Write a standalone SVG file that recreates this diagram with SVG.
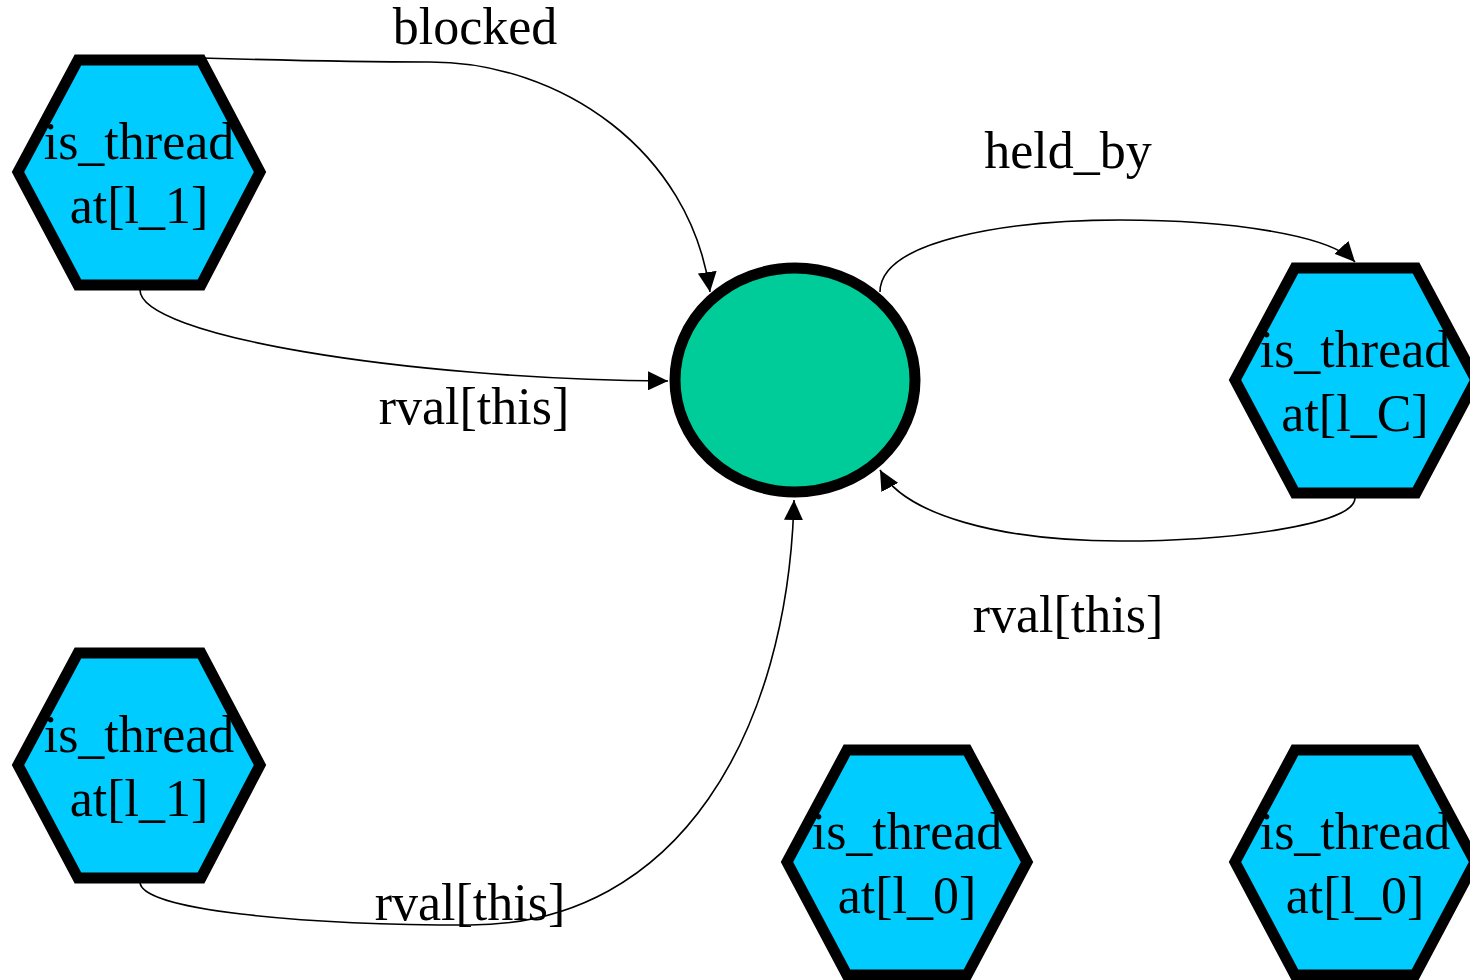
<svg xmlns="http://www.w3.org/2000/svg" width="1470" height="980" viewBox="0 0 1470 980">
  <defs>
    <style>
      .thread { fill: #00ccff; stroke: #000; stroke-width: 11; stroke-linejoin: miter; }
      .lock { fill: #00cc99; stroke: #000; stroke-width: 11; }
      .lbl { font-family: "Liberation Serif", "Times New Roman", serif; font-size: 52px; fill: #000; text-anchor: middle; }
      .edge { fill: none; stroke: #000; stroke-width: 1.6; }
    </style>
    <marker id="head" viewBox="0 0 20 19" refX="20" refY="9.5" markerWidth="20" markerHeight="19" markerUnits="userSpaceOnUse" orient="auto">
      <path d="M0,0 L20,9.5 L0,19 z" fill="#000"/>
    </marker>
  </defs>
  <rect width="1470" height="980" fill="#fff"/>

  <!-- connectors -->
  <g id="edges">
    <path class="edge" marker-end="url(#head)" d="M140,56 C200,58 330,62 430,62 C560,62 690,150 710,292"/>
    <text class="lbl" x="475" y="44">blocked</text>

    <path class="edge" marker-end="url(#head)" d="M140,290 C140,335 400,379 668,381"/>
    <text class="lbl" x="474" y="424">rval[this]</text>

    <path class="edge" marker-end="url(#head)" d="M140,882 C140,910 300,925 470,925 C680,925 788,730 794,500"/>
    <text class="lbl" x="470" y="920">rval[this]</text>

    <path class="edge" marker-end="url(#head)" d="M880,292 C880,240 1010,220 1120,220 C1230,220 1330,235 1355,262"/>
    <text class="lbl" x="1068" y="168">held_by</text>

    <path class="edge" marker-end="url(#head)" d="M1355,498 C1355,525 1230,541 1120,541 C1000,541 905,515 880,470"/>
    <text class="lbl" x="1068" y="632">rval[this]</text>
  </g>

  <!-- lock node -->
  <g id="lock">
    <ellipse class="lock" cx="795" cy="380" rx="120" ry="112"/>
  </g>

  <!-- thread nodes -->
  <g id="thread_l1_top">
    <polygon class="thread" points="78,60 201,60 260,172 201,285 78,285 18,172"/>
    <text class="lbl" x="139" y="159">is_thread</text>
    <text class="lbl" x="139" y="223">at[l_1]</text>
  </g>
  <g id="thread_l1_bottom">
    <polygon class="thread" points="78,653 201,653 260,765 201,878 78,878 18,765"/>
    <text class="lbl" x="139" y="752">is_thread</text>
    <text class="lbl" x="139" y="816">at[l_1]</text>
  </g>
  <g id="thread_lC">
    <polygon class="thread" points="1295,268 1416,268 1476,380 1416,493 1295,493 1235,380"/>
    <text class="lbl" x="1355" y="367">is_thread</text>
    <text class="lbl" x="1355" y="431">at[l_C]</text>
  </g>
  <g id="thread_l0_a">
    <polygon class="thread" points="847,750 967,750 1027,862 967,975 847,975 787,862"/>
    <text class="lbl" x="907" y="849">is_thread</text>
    <text class="lbl" x="907" y="913">at[l_0]</text>
  </g>
  <g id="thread_l0_b">
    <polygon class="thread" points="1295,750 1415,750 1475,862 1415,975 1295,975 1235,862"/>
    <text class="lbl" x="1355" y="849">is_thread</text>
    <text class="lbl" x="1355" y="913">at[l_0]</text>
  </g>
</svg>
